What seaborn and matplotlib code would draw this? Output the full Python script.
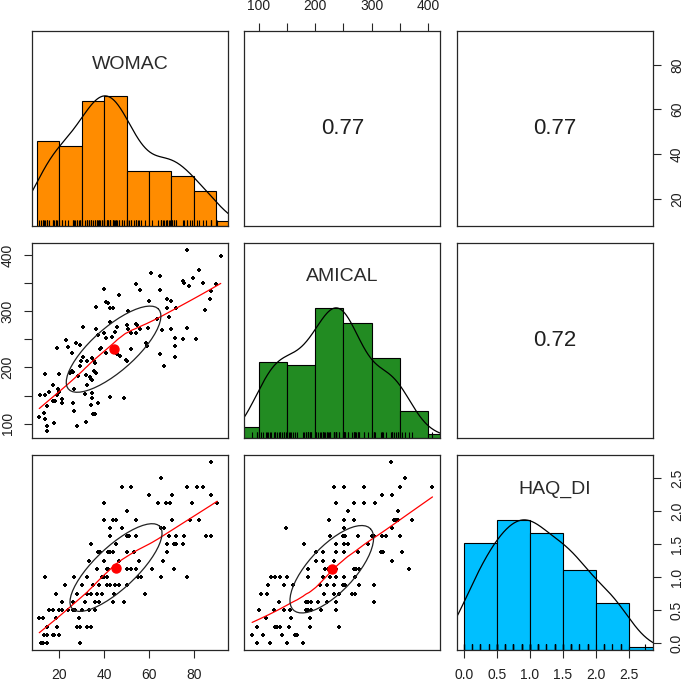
import numpy as np
import pandas as pd
import matplotlib
matplotlib.use("Agg")
import matplotlib.pyplot as plt
import seaborn as sns

# ---- data ----
# panel row 2 / col 1 : WOMAC (x) vs AMICAL (y)
womac_wa = [77, 92, 61, 65, 82.5, 79.5, 75, 75.5, 84, 54, 56, 40, 78, 87.5, 87, 65, 46.5, 90,
            41, 41.5, 60, 68, 70, 36.5, 42.5, 44, 50.5, 68, 72, 85,
            30.5, 36.5, 42.5, 45.5, 50, 54, 54.5, 50.5, 52, 54, 56, 59.5, 63.5, 69, 66, 70,
            75, 81, 77, 71.5, 71.5, 71.5, 66.5, 65, 37, 40, 41, 43.5, 45, 23, 24, 19, 27.5,
            29, 25.5, 30.5, 34.5, 32.5, 35.5, 36, 38, 38.5, 41, 45.5, 47, 49.5, 50, 52, 58.5,
            59, 29, 26, 25.5, 28.5, 33.5, 34, 36.5, 35.5, 24.5, 29.5,
            13.5, 20, 17, 15.5, 11.5, 13.5, 19.5, 20, 19, 17, 18, 21, 21, 14.5, 13, 11, 13.5,
            17.5, 14.5, 14.5, 26.5, 26, 26.5, 28, 32, 31.5, 34.5, 34.5, 34, 36, 35, 37, 42.5,
            49, 32, 34.5, 32.5]
amical_wa = [409, 398, 368, 362, 374, 359, 354, 350, 350, 349, 337, 339, 344, 336, 322, 337, 328, 349,
             316, 314, 319, 321, 318, 308, 306, 306, 300, 306, 305, 303,
             272, 269, 281, 272, 276, 278, 275, 269, 261, 261, 268, 271, 286, 289, 266, 269,
             251, 251, 271, 253, 238, 219, 202, 224, 258, 261, 252, 255, 263, 249, 236, 234, 243,
             240, 225, 219, 216, 211, 211, 208, 233, 234, 226, 224, 221, 213, 211, 233, 243,
             238, 202, 191, 194, 185, 183, 180, 190, 193, 190, 211,
             188, 189, 168, 156, 151, 151, 161, 157, 151, 140, 140, 143, 136, 131, 119, 112, 108,
             102, 95, 87, 161, 137, 122, 96, 103, 153, 155, 146, 133, 117, 117, 137, 148,
             145, 187, 178, 169]

# panel row 3 / col 1 : WOMAC (x) vs HAQ_DI (y)
womac_wh = [87.5, 65.4, 47.9, 51.9, 77.0, 81.2, 84.0, 60.0, 70.3, 87.5,
            40.0, 63.9, 67.6, 69.3, 79.3, 90.4, 50.0,
            40.0, 43.7, 45.2, 54.2, 70.3, 78.2, 82.2, 42.7, 47.9, 65.4, 66.6,
            42.7, 50.0, 50.9, 54.2, 68.8, 72.2, 75.5, 85.2, 87.5,
            34.0, 45.2, 67.8, 71.3, 72.2, 75.2,
            37.2, 38.2, 41.5, 42.7, 43.7, 50.0, 53.4, 67.8,
            33.4, 40.0, 46.7, 55.7, 66.3,
            36.7, 41.2, 41.9, 45.7, 50.0, 51.9, 54.2, 61.3, 71.3,
            13.4, 26.3, 32.2, 39.0, 40.0, 41.2, 54.9, 56.4, 65.4, 77.0,
            22.5, 30.0, 35.2, 37.8, 41.2, 42.7, 44.9, 46.7, 50.0,
            18.5, 27.8, 32.2, 34.0, 36.7, 38.9, 44.2, 58.0,
            21.0, 26.0, 31.5, 36.0, 37.8, 43.7, 49.0,
            15.5, 17.0, 20.0, 21.0, 24.0, 26.0, 27.0, 30.0, 33.4, 36.0,
            11.0, 12.8, 18.5, 28.8,
            14.3, 18.8, 28.0, 29.3, 32.5, 34.0,
            13.1, 14.3, 17.0, 17.6, 20.0,
            11.6, 12.8, 14.3, 29.0]
haq_wh = [2.75, 2.5, 2.375, 2.375, 2.375, 2.375, 2.375, 2.25, 2.25, 2.25,
          2.125, 2.125, 2.125, 2.125, 2.125, 2.125, 2.0,
          1.875, 1.875, 1.875, 1.875, 1.875, 1.875, 1.875, 1.75, 1.75, 1.75, 1.75,
          1.625, 1.625, 1.625, 1.625, 1.625, 1.625, 1.625, 1.625, 1.625,
          1.5, 1.5, 1.5, 1.5, 1.5, 1.5,
          1.375, 1.375, 1.375, 1.375, 1.375, 1.375, 1.375, 1.375,
          1.25, 1.25, 1.25, 1.25, 1.25,
          1.125, 1.125, 1.125, 1.125, 1.125, 1.125, 1.125, 1.125, 1.125,
          1.0, 1.0, 1.0, 1.0, 1.0, 1.0, 1.0, 1.0, 1.0, 1.0,
          0.875, 0.875, 0.875, 0.875, 0.875, 0.875, 0.875, 0.875, 0.875,
          0.75, 0.75, 0.75, 0.75, 0.75, 0.75, 0.75, 0.75,
          0.625, 0.625, 0.625, 0.625, 0.625, 0.625, 0.625,
          0.5, 0.5, 0.5, 0.5, 0.5, 0.5, 0.5, 0.5, 0.5, 0.5,
          0.375, 0.375, 0.375, 0.375,
          0.25, 0.25, 0.25, 0.25, 0.25, 0.25,
          0.125, 0.125, 0.125, 0.125, 0.125,
          0.0, 0.0, 0.0, 0.0]

# panel row 3 / col 2 : AMICAL (x) vs HAQ_DI (y)
amical_ah = [334, 360, 233, 251, 287, 350, 408, 318, 336, 237, 268, 287, 306, 258, 347,
             224, 251, 268, 340, 344, 347, 372, 148, 251, 336,
             226, 250, 253, 275, 301, 305, 319, 326, 350,
             180, 237, 251, 259, 293,
             201, 214, 236, 251, 275, 316, 320, 354,
             201, 213, 234, 336,
             188, 218, 222, 236, 268, 272, 278, 367,
             122, 129, 137, 150, 188, 214, 226, 236, 251, 270,
             116, 145, 160, 208, 220, 234, 249, 253, 277, 305,
             103, 115, 215, 233, 243, 265, 271,
             135, 184, 188, 192, 205, 221, 236, 305,
             100, 126, 145, 156, 184, 188, 192, 211, 236,
             112, 157, 190,
             96, 129, 133, 138, 153, 191, 242,
             88, 108, 141, 164, 168,
             96, 119, 150, 179]
haq_ah = [2.75, 2.5, 2.375, 2.375, 2.375, 2.375, 2.375, 2.25, 2.25, 2.125, 2.125, 2.125, 2.125, 2.0, 2.0,
          1.875, 1.875, 1.875, 1.875, 1.875, 1.875, 1.875, 1.75, 1.75, 1.75,
          1.625, 1.625, 1.625, 1.625, 1.625, 1.625, 1.625, 1.625, 1.625,
          1.5, 1.5, 1.5, 1.5, 1.5,
          1.375, 1.375, 1.375, 1.375, 1.375, 1.375, 1.375, 1.375,
          1.25, 1.25, 1.25, 1.25,
          1.125, 1.125, 1.125, 1.125, 1.125, 1.125, 1.125, 1.125,
          1.0, 1.0, 1.0, 1.0, 1.0, 1.0, 1.0, 1.0, 1.0, 1.0,
          0.875, 0.875, 0.875, 0.875, 0.875, 0.875, 0.875, 0.875, 0.875, 0.875,
          0.75, 0.75, 0.75, 0.75, 0.75, 0.75, 0.75,
          0.625, 0.625, 0.625, 0.625, 0.625, 0.625, 0.625, 0.625,
          0.5, 0.5, 0.5, 0.5, 0.5, 0.5, 0.5, 0.5, 0.5,
          0.375, 0.375, 0.375,
          0.25, 0.25, 0.25, 0.25, 0.25, 0.25, 0.25,
          0.125, 0.125, 0.125, 0.125, 0.125,
          0.0, 0.0, 0.0, 0.0]

# histogram bins and bar heights (counts)
womac_breaks = [10, 20, 30, 40, 50, 60, 70, 80, 90, 100]
womac_counts = [17, 16, 25, 26, 11, 11, 10, 7, 1]
amical_breaks = [50, 100, 150, 200, 250, 300, 350, 400, 450]
amical_counts = [3, 20, 19, 34, 30, 21, 7, 1]
haq_breaks = [0.0, 0.5, 1.0, 1.5, 2.0, 2.5, 3.0]
haq_counts = [32, 39, 35, 24, 14, 1]

var_names = ["WOMAC", "AMICAL", "HAQ_DI"]
hist_colors = ["#FF8C00", "#228B22", "#00BFFF"]
# correlations printed in the upper panels: (1,2), (1,3), (2,3)
r_labels = ["0.77", "0.77", "0.72"]

sns.set_style("white")
plt.rcParams["font.family"] = ["Liberation Sans", "DejaVu Sans"]
TXT = "#1f1f1f"


def r_range(v):
    # R style axis range: data range plus 4% on each side
    v = np.asarray(v, float)
    span = v.max() - v.min()
    return v.min() - 0.04 * span, v.max() + 0.04 * span


def lowess(x, y, f=2 / 3, iters=3):
    x = np.asarray(x, float)
    y = np.asarray(y, float)
    order = np.argsort(x, kind="mergesort")
    x, y = x[order], y[order]
    n = len(x)
    ns = max(2, min(n, int(f * n + 1e-7)))
    fit = np.zeros(n)
    rob = np.ones(n)
    for _ in range(iters + 1):
        for i in range(n):
            d = np.abs(x - x[i])
            h = np.sort(d)[ns - 1]
            u = d / h if h > 0 else d
            w = np.where(u < 1, (1 - u ** 3) ** 3, 0.0) * rob
            xm = (w * x).sum() / w.sum()
            ym = (w * y).sum() / w.sum()
            sxx = (w * (x - xm) ** 2).sum()
            b = (w * (x - xm) * (y - ym)).sum() / sxx if sxx > 0 else 0.0
            fit[i] = ym + b * (x[i] - xm)
        res = y - fit
        s = np.median(np.abs(res))
        if s == 0:
            break
        u = res / (6 * s)
        rob = np.where(np.abs(u) < 1, (1 - u ** 2) ** 2, 0.0)
    return x, fit


def density_nrd(v, adjust=1.0):
    v = np.asarray(v, float)
    q75, q25 = np.percentile(v, [75, 25])
    bw = 1.06 * min(v.std(ddof=1), (q75 - q25) / 1.34) * len(v) ** (-0.2) * adjust
    grid = np.linspace(v.min() - 3 * bw, v.max() + 3 * bw, 512)
    dens = np.exp(-0.5 * ((grid[:, None] - v[None, :]) / bw) ** 2).sum(axis=1)
    return grid, dens / dens.max()


def scatter_panel(ax, x, y, xlim, ylim):
    x = np.asarray(x, float)
    y = np.asarray(y, float)
    sns.scatterplot(x=x, y=y, color="black", s=11, linewidth=0, marker="P", ax=ax, zorder=2)
    lx, ly = lowess(x, y)
    ax.plot(lx, ly, color="red", lw=0.9, zorder=3)
    r = np.corrcoef(x, y)[0, 1]
    t = np.linspace(0, 2 * np.pi, 52)
    th = 1 / np.sqrt(2)
    ex = np.cos(t) * np.sqrt(1 + r) * th - np.sin(t) * np.sqrt(1 - r) * th
    ey = np.cos(t) * np.sqrt(1 + r) * th + np.sin(t) * np.sqrt(1 - r) * th
    ax.plot(ex * x.std(ddof=1) + x.mean(), ey * y.std(ddof=1) + y.mean(),
            color="#222222", lw=0.9, zorder=3)
    ax.plot(x.mean(), y.mean(), "o", color="red", ms=6.5, zorder=4)
    ax.set_xlim(xlim)
    ax.set_ylim(ylim)


def diag_panel(ax, v, breaks, counts, color, name, xlim):
    breaks = np.asarray(breaks, float)
    counts = np.asarray(counts, float)
    dens = counts / (counts.sum() * np.diff(breaks))
    bars = pd.DataFrame({"mid": (breaks[:-1] + breaks[1:]) / 2, "dens": dens})
    sns.histplot(data=bars, x="mid", weights="dens", bins=breaks.tolist(), color=color,
                 alpha=1, edgecolor="black", linewidth=0.8, ax=ax)
    gx, gy = density_nrd(v)
    ax.plot(gx, gy * dens.max(), color="black", lw=0.9)
    ax.set_xlim(xlim)
    ax.set_ylim(0, 1.5 * dens.max())
    sns.rugplot(x=np.asarray(v, float), height=0.03, color="black", linewidth=0.8,
                expand_margins=False, ax=ax)
    ax.text(0.5, 0.825, name, transform=ax.transAxes, ha="center", va="center",
            fontsize=14, color="#2a2a2a")


def text_panel(ax, label, xlim, ylim):
    ax.set_xlim(xlim)
    ax.set_ylim(ylim)
    ax.text(0.5, 0.5, label, transform=ax.transAxes, ha="center", va="center",
            fontsize=16, color=TXT)


W, H = 685, 682
fig = plt.figure(figsize=(W / 100, H / 100), dpi=100)
col_left = [32, 244.3, 456.6]
row_top = [30.7, 242.7, 454.7]
pw, ph = 196, 195.5
axes = [[fig.add_axes([col_left[j] / W, 1 - (row_top[i] + ph) / H, pw / W, ph / H])
         for j in range(3)] for i in range(3)]

lims = [r_range(womac_wa + womac_wh), r_range(amical_wa + amical_ah), r_range(haq_wh + haq_ah)]

diag_panel(axes[0][0], womac_wh, womac_breaks, womac_counts, hist_colors[0], var_names[0], lims[0])
diag_panel(axes[1][1], amical_ah, amical_breaks, amical_counts, hist_colors[1], var_names[1], lims[1])
diag_panel(axes[2][2], haq_wh, haq_breaks, haq_counts, hist_colors[2], var_names[2], lims[2])

scatter_panel(axes[1][0], womac_wa, amical_wa, lims[0], lims[1])
scatter_panel(axes[2][0], womac_wh, haq_wh, lims[0], lims[2])
scatter_panel(axes[2][1], amical_ah, haq_ah, lims[1], lims[2])

text_panel(axes[0][1], r_labels[0], lims[1], lims[0])
text_panel(axes[0][2], r_labels[1], lims[2], lims[0])
text_panel(axes[1][2], r_labels[2], lims[2], lims[1])

# right axis for HAQ_DI beside row 3 (twin, so the histogram keeps its own scale)
haq_right = axes[2][2].twinx()

for row in axes:
    for ax in row:
        ax.set_xlabel("")
        ax.set_ylabel("")
        ax.tick_params(which="both", bottom=False, top=False, left=False, right=False,
                       labelbottom=False, labeltop=False, labelleft=False, labelright=False)
        for sp in ax.spines.values():
            sp.set_visible(True)
            sp.set_color("#262626")
            sp.set_linewidth(0.9)

tick_kw = dict(length=6, width=0.8, color="#262626", labelsize=10, labelcolor=TXT, pad=6.5)

womac_ticks = [20, 40, 60, 80]
amical_ticks = [100, 150, 200, 250, 300, 350, 400]
amical_text = ["100", "", "200", "", "300", "", "400"]
haq_ticks = [0.0, 0.5, 1.0, 1.5, 2.0, 2.5]
haq_text = ["0.0", "0.5", "1.0", "1.5", "2.0", "2.5"]

# bottom: WOMAC under column 1
ax = axes[2][0]
ax.set_xticks(womac_ticks, [str(t) for t in womac_ticks])
ax.tick_params(axis="x", bottom=True, labelbottom=True, **tick_kw)

# top: AMICAL over column 2
ax = axes[0][1]
ax.set_xticks(amical_ticks, amical_text)
ax.tick_params(axis="x", top=True, labeltop=True, **tick_kw)

# bottom: HAQ_DI under column 3
ax = axes[2][2]
ax.set_xticks(haq_ticks, haq_text)
ax.tick_params(axis="x", bottom=True, labelbottom=True, **tick_kw)

# right: WOMAC beside row 1
ax = axes[0][2]
ax.set_yticks(womac_ticks, [str(t) for t in womac_ticks])
ax.tick_params(axis="y", right=True, labelright=True, **tick_kw)
for lab in ax.get_yticklabels():
    lab.set_rotation(90)
    lab.set_va("center")

# left: AMICAL beside row 2
ax = axes[1][0]
ax.set_yticks(amical_ticks, amical_text)
ax.tick_params(axis="y", left=True, labelleft=True, **tick_kw)
for lab in ax.get_yticklabels():
    lab.set_rotation(90)
    lab.set_va("center")

# right: HAQ_DI beside row 3
ax = haq_right
ax.set_ylim(lims[2])
ax.set_yticks(haq_ticks, haq_text)
ax.tick_params(axis="y", left=False, labelleft=False, right=True, labelright=True, **tick_kw)
for sp in ax.spines.values():
    sp.set_visible(False)
for lab in ax.get_yticklabels():
    lab.set_rotation(90)
    lab.set_va("center")

fig.savefig("out.png", dpi=100)
